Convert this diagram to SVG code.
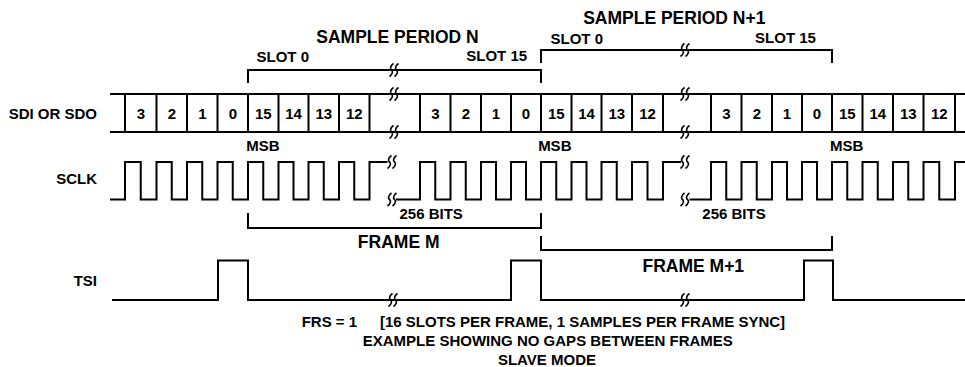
<svg xmlns="http://www.w3.org/2000/svg" width="965" height="367" viewBox="0 0 965 367">
<style>
text{font-family:"Liberation Sans",Arial,sans-serif;font-weight:bold;fill:#000}
.s{font-size:15px}
.l{font-size:17.5px}
.m{text-anchor:middle}
.e{text-anchor:end}
.w{fill:none;stroke:#000;stroke-width:2;stroke-linejoin:miter}
.bk{fill:none;stroke:#000;stroke-width:1.6}
</style>
<defs>
<g id="brk">
<path class="bk" d="M-0.5,-6.5 C-4,-4 -4,-1 -2.5,0 C-1,1 -1,4 -4.5,6.5 M4.5,-6.5 C1,-4 1,-1 2.5,0 C4,1 4,4 0.5,6.5"/>
</g>
</defs>
<rect width="965" height="367" fill="#fff"/>

<g id="labels">
<text class="s e" x="97" y="119">SDI OR SDO</text>
<text class="s e" x="97" y="184">SCLK</text>
<text class="s e" x="97" y="286">TSI</text>
</g>

<g id="period-labels">
<text class="l m" x="397.5" y="42.5">SAMPLE PERIOD N</text>
<text class="l m" x="674.3" y="24">SAMPLE PERIOD N+1</text>
<text class="s m" x="282.8" y="61.5">SLOT 0</text>
<text class="s m" x="496.7" y="61">SLOT 15</text>
<text class="s m" x="576.8" y="44">SLOT 0</text>
<text class="s m" x="785.5" y="43">SLOT 15</text>
</g>

<g id="brackets">
<path class="w" d="M248,83 V70 H541 V83"/>
<path class="w" d="M541,63 V50 H832 V63"/>
<path class="w" d="M248,213 V228 H541 V213"/>
<path class="w" d="M541,236 V250 H832 V236"/>
<use href="#brk" x="394" y="70"/>
<use href="#brk" x="685" y="50"/>
</g>

<g id="data-bus">
<path class="w" d="M110,94 H965 M110,132 H965"/>
<path class="w" d="M125,94 V132 M156.5,94 V132 M187,94 V132 M217.5,94 V132 M248,94 V132 M278.5,94 V132 M308.5,94 V132 M339,94 V132 M369.5,94 V132
M420,94 V132 M450.5,94 V132 M481,94 V132 M511,94 V132 M541,94 V132 M571.5,94 V132 M601.5,94 V132 M632,94 V132 M663,94 V132
M711,94 V132 M741.5,94 V132 M772,94 V132 M802,94 V132 M832,94 V132 M862.5,94 V132 M893,94 V132 M923.5,94 V132 M955,94 V132"/>
<use href="#brk" x="394" y="94"/>
<use href="#brk" x="394" y="132"/>
<use href="#brk" x="685" y="94"/>
<use href="#brk" x="685" y="132"/>
<g>
<text class="s m" x="140.8" y="119">3</text>
<text class="s m" x="171.8" y="119">2</text>
<text class="s m" x="202.3" y="119">1</text>
<text class="s m" x="232.8" y="119">0</text>
<text class="s m" x="263.3" y="119">15</text>
<text class="s m" x="293.5" y="119">14</text>
<text class="s m" x="323.8" y="119">13</text>
<text class="s m" x="354.3" y="119">12</text>
<text class="s m" x="435.3" y="119">3</text>
<text class="s m" x="465.8" y="119">2</text>
<text class="s m" x="496" y="119">1</text>
<text class="s m" x="526" y="119">0</text>
<text class="s m" x="556.3" y="119">15</text>
<text class="s m" x="586.5" y="119">14</text>
<text class="s m" x="616.8" y="119">13</text>
<text class="s m" x="647.5" y="119">12</text>
<text class="s m" x="726.3" y="119">3</text>
<text class="s m" x="756.8" y="119">2</text>
<text class="s m" x="787" y="119">1</text>
<text class="s m" x="817" y="119">0</text>
<text class="s m" x="847.3" y="119">15</text>
<text class="s m" x="877.8" y="119">14</text>
<text class="s m" x="908.3" y="119">13</text>
<text class="s m" x="939.3" y="119">12</text>
</g>
<text class="s m" x="263" y="151">MSB</text>
<text class="s m" x="554.8" y="151">MSB</text>
<text class="s m" x="846.7" y="151">MSB</text>
</g>

<g id="sclk">
<path class="w" d="M110,199.5 H125 V162 H140.75 V199.5 H156.5 V162 H171.75 V199.5 H187 V162 H202.25 V199.5 H217.5 V162 H232.75 V199.5 H248 V162 H263.25 V199.5 H278.5 V162 H293.5 V199.5 H308.5 V162 H323.75 V199.5 H339 V162 H354.25 V199.5 H369.5 V162 H387.5"/>
<path class="w" d="M396,199.5 H420 V162 H435.25 V199.5 H450.5 V162 H465.75 V199.5 H481 V162 H496 V199.5 H511 V162 H526 V199.5 H541 V162 H556.25 V199.5 H571.5 V162 H586.5 V199.5 H601.5 V162 H616.75 V199.5 H632 V162 H647.5 V199.5 H663 V162 H681"/>
<path class="w" d="M689.5,199.5 H711 V162 H726.25 V199.5 H741.5 V162 H756.75 V199.5 H772 V162 H787 V199.5 H802 V162 H817 V199.5 H832 V162 H847.25 V199.5 H862.5 V162 H877.75 V199.5 H893 V162 H908.25 V199.5 H923.5 V162 H939.25 V199.5 H955 V162 H966"/>
<use href="#brk" x="392" y="162"/>
<use href="#brk" x="392" y="199.5"/>
<use href="#brk" x="685" y="162"/>
<use href="#brk" x="685" y="199.5"/>
<text class="s m" x="431.2" y="219">256 BITS</text>
<text class="s m" x="734" y="219">256 BITS</text>
</g>

<g id="frames">
<text class="l m" x="398.7" y="248">FRAME M</text>
<text class="l m" x="693.3" y="271.5">FRAME M+1</text>
</g>

<g id="tsi">
<path class="w" d="M112,300 H218 V260.5 H248 V300 H511 V260.5 H541 V300 H804 V260.5 H833 V300 H966"/>
<use href="#brk" x="393" y="300"/>
<use href="#brk" x="685" y="300"/>
</g>

<g id="footer">
<text class="s" x="301.7" y="327">FRS = 1</text>
<text class="s" x="380" y="327">[16 SLOTS PER FRAME, 1 SAMPLES PER FRAME SYNC]</text>
<text class="s m" x="547.8" y="346">EXAMPLE SHOWING NO GAPS BETWEEN FRAMES</text>
<text class="s m" x="547" y="364.5">SLAVE MODE</text>
</g>
</svg>
